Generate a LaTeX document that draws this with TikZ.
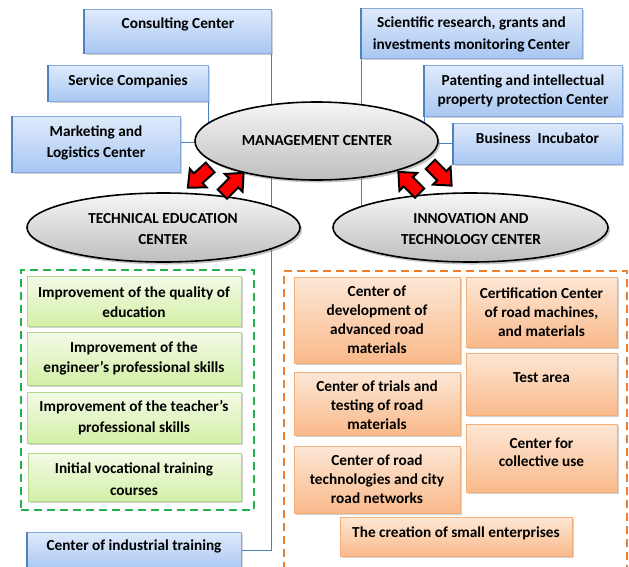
\documentclass[tikz,border=0pt]{standalone}
\usepackage{fontspec}
\setmainfont{Carlito}
\usetikzlibrary{shadows,backgrounds,shapes.geometric,calc}

\definecolor{bluetop}{HTML}{DFEAFB}
\definecolor{bluebot}{HTML}{A8C7F2}
\definecolor{bluebord}{HTML}{86ABDD}
\definecolor{blueedge}{HTML}{4F81BD}
\definecolor{greentop}{HTML}{F3FBE6}
\definecolor{greenbot}{HTML}{D3EFA6}
\definecolor{greenbord}{HTML}{B3D68A}
\definecolor{orangetop}{HTML}{FDE7D5}
\definecolor{orangebot}{HTML}{F9B98A}
\definecolor{orangebord}{HTML}{F5AE78}
\definecolor{hubtop}{HTML}{F6F6F6}
\definecolor{hubbot}{HTML}{BEBEBE}
\definecolor{linkblue}{HTML}{4A7EBB}
\definecolor{framegreen}{HTML}{22B14C}
\definecolor{frameorange}{HTML}{ED7D31}

% a box placed by its top-left and bottom-right corners
\newcommand\blk[6]{%
  \node[#2, anchor=north west, minimum width={(#5-#3)*1pt},
        minimum height={(#6-#4)*1pt}] (#1) at (#3,#4) {};}

% a block arrow centred at #1, pointing in canvas direction #2
\newcommand\flowarrow[2]{%
  \draw[flow, shift={#1}, rotate=#2]
    (-15,-6.5) -- (1,-6.5) -- (1,-12.5) -- (15,0) -- (1,12.5) -- (1,6.5) -- (-15,6.5) -- cycle;}

\tikzset{
  boxshadow/.style={drop shadow={opacity=0.35, shadow xshift=1.5pt, shadow yshift=-1.8pt}},
  blueblock/.style={rectangle, inner sep=0pt, draw=bluebord, line width=0.8pt,
    top color=bluetop, bottom color=bluebot, boxshadow},
  greenblock/.style={rectangle, inner sep=0pt, draw=greenbord, line width=0.8pt,
    top color=greentop, bottom color=greenbot, boxshadow},
  orangeblock/.style={rectangle, inner sep=0pt, draw=orangebord, line width=0.8pt,
    top color=orangetop, bottom color=orangebot, boxshadow},
  hub/.style={ellipse, inner sep=0pt, draw=black, line width=1.6pt,
    top color=hubtop, bottom color=hubbot,
    drop shadow={opacity=0.45, shadow xshift=2pt, shadow yshift=-2.5pt}},
  greenframe/.style={rectangle, inner sep=0pt, draw=framegreen, line width=2pt,
    dash pattern=on 8pt off 5pt},
  orangeframe/.style={rectangle, inner sep=0pt, draw=frameorange, line width=2pt,
    dash pattern=on 8pt off 5pt},
  lbl/.style={font=\bfseries\fontsize{15.3}{20}\selectfont, align=center, inner sep=0pt},
  link/.style={draw=linkblue, line width=0.8pt},
  flow/.style={draw=black, line width=2pt, fill=red, line join=miter}
}

\begin{document}
\begin{tikzpicture}[x=1pt,y=-1pt]
\clip (0,0) rectangle (629,566);

% hub ellipses
\node[hub, minimum width=243pt, minimum height=78pt] (mgmt) at (316.5,141) {};
\node[hub, minimum width=273pt, minimum height=69pt] (tech) at (163.5,227.5) {};
\node[hub, minimum width=275pt, minimum height=69pt] (innov) at (470.5,227.5) {};

% units around the management center
\blk{cons}{blueblock}{84}{9}{271}{53}
\blk{serv}{blueblock}{48}{65}{208}{101}
\blk{mkt}{blueblock}{12}{116}{180}{172}
\blk{sci}{blueblock}{361}{8}{582}{58}
\blk{pat}{blueblock}{424}{65}{622}{116}
\blk{inc}{blueblock}{453}{123}{622}{164}
\blk{ind}{blueblock}{27}{532}{241}{570}

\foreach \b in {cons,serv,mkt,sci,pat,inc,ind}
  \draw[blueedge, line width=1.4pt] (\b.north west) -- (\b.south west);

% technical education block
\blk{gframe}{greenframe}{20}{269}{253}{509}
\blk{g1}{greenblock}{27}{276}{241}{326}
\blk{g2}{greenblock}{27}{332}{241}{385}
\blk{g3}{greenblock}{27}{392}{241}{443}
\blk{g4}{greenblock}{28}{453}{241}{501}

% innovation and technology block
\blk{oframe}{orangeframe}{283}{270}{626}{580}
\blk{o1}{orangeblock}{294}{277}{460}{363}
\blk{o2}{orangeblock}{466}{277}{617}{347}
\blk{o3}{orangeblock}{466}{353}{617}{415}
\blk{o4}{orangeblock}{294}{372}{460}{435}
\blk{o5}{orangeblock}{466}{424}{617}{492}
\blk{o6}{orangeblock}{294}{446}{460}{513}
\blk{o7}{orangeblock}{340}{517}{572}{556}

% white page and connectors, kept behind the shapes
\begin{pgfonlayer}{background}
  \fill[white] (0,0) rectangle (629,566);
  \draw[link] (cons.south east) |- (ind.east |- 0,550);
  \draw[link] (serv.south east) -- (serv.south east |- mgmt.center);
  \draw[link] (mkt.east |- 0,142) -- (mgmt.center |- 0,142);
  \draw[link] (sci.south west) -- (sci.south west |- innov.center);
  \draw[link] (pat.south west) -- (pat.south west |- mgmt.center);
  \draw[link] (inc.west |- 0,143) -- (mgmt.center |- 0,143);
\end{pgfonlayer}

% labels
\node[lbl] (tcons) at (178,24) {Consulting Center};
\node[lbl] (tserv) at (128,81) {Service Companies};
\node[lbl, font=\bfseries\fontsize{15.3}{21}\selectfont] (tmkt) at (96,142.5) {Marketing and\\Logistics Center};
\node[lbl, font=\bfseries\fontsize{15.3}{22}\selectfont] (tsci) at (471.5,34) {Scientific research, grants and\\investments monitoring Center};
\node[lbl, font=\bfseries\fontsize{15.3}{19}\selectfont] (tpat) at (523,90.5) {Patenting and intellectual\\property protection Center};
\node[lbl] (tinc) at (537.5,138) {Business\ \ Incubator};
\node[lbl] (tmgmt) at (317,141) {MANAGEMENT CENTER};
\node[lbl, font=\bfseries\fontsize{15.3}{21}\selectfont] (ttech) at (163,229.5) {TECHNICAL EDUCATION\\CENTER};
\node[lbl, font=\bfseries\fontsize{15.3}{21}\selectfont] (tinnov) at (471,229.5) {INNOVATION AND\\TECHNOLOGY CENTER};

\node[lbl] (tg1) at (134,302) {Improvement of the quality of\\education};
\node[lbl] (tg2) at (134,358) {Improvement of the\\engineer’s professional skills};
\node[lbl, font=\bfseries\fontsize{15.3}{21}\selectfont] (tg3) at (134,417.5) {Improvement of the teacher’s\\professional skills};
\node[lbl, font=\bfseries\fontsize{15.3}{22}\selectfont] (tg4) at (134,479) {Initial vocational training\\courses};
\node[lbl] (tind) at (134,546) {Center of industrial training};

\node[lbl, font=\bfseries\fontsize{15.3}{19}\selectfont] (to1) at (377,319.5) {Center of\\development of\\advanced road\\materials};
\node[lbl, font=\bfseries\fontsize{15.3}{19}\selectfont] (to2) at (541.5,312) {Certification Center\\of road machines,\\and materials};
\node[lbl] (to3) at (541.5,378) {Test area};
\node[lbl, font=\bfseries\fontsize{15.3}{19}\selectfont] (to4) at (377,405) {Center of trials and\\testing of road\\materials};
\node[lbl, font=\bfseries\fontsize{15.3}{18.5}\selectfont] (to5) at (541.5,452) {Center for\\collective use};
\node[lbl, font=\bfseries\fontsize{15.3}{19}\selectfont] (to6) at (377,479) {Center of road\\technologies and city\\road networks};
\node[lbl] (to7) at (456,533) {The creation of small enterprises};

% exchange arrows between the centers
\flowarrow{(199,177.5)}{222}
\flowarrow{(233,183.5)}{45}
\flowarrow{(409,182.5)}{135}
\flowarrow{(441,175)}{-45}
\end{tikzpicture}
\end{document}
